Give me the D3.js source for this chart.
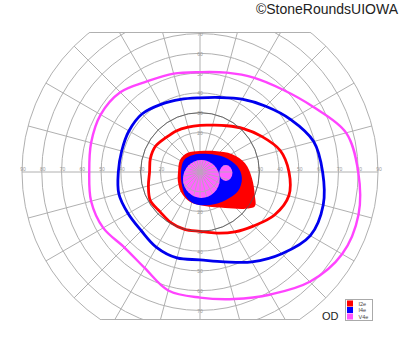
<!DOCTYPE html>
<html>
<head>
<meta charset="utf-8">
<title>Goldmann visual field OD</title>
<style>
  body { margin: 0; background: #fff; }
  svg text { font-family: "Liberation Sans", Arial, sans-serif; }
</style>
</head>
<body>
<svg width="400" height="352"></svg>
<script src="https://cdn.jsdelivr.net/npm/d3@7/dist/d3.min.js"></script>
<script>
// meridians every 15 deg (0 = right, counter-clockwise), eccentricity in degrees
const meridians = [0, 15, 30, 45, 60, 75, 90, 105, 120, 135, 150, 165,
                   180, 195, 210, 225, 240, 255, 270, 285, 300, 315, 330, 345];
const isoV4e = [80, 76.5, 66, 59, 55, 52, 50.5, 51.5, 53, 57, 58, 57,
                56, 57, 56.5, 54, 56, 62, 63.5, 66.5, 71.5, 78.5, 83, 83];
const isoI4e = [62, 59.5, 53, 47, 42.5, 39, 37.5, 38, 39.5, 41.5, 41.5, 41,
                41.3, 42.5, 42, 42, 44, 45, 44.4, 47, 52.5, 58.5, 64.4, 64.5];
const isoI2e = [45, 42, 36, 31, 27, 24.5, 23.6, 23.5, 24, 24.5, 26, 26,
                25.5, 27, 29, 28.5, 29.5, 30, 30, 32, 35, 38.5, 43.5, 46.5];

// central scotoma areas: [meridian, eccentricity]
const redAngles = [11, 29, 55, 90, 124, 149, 180, 204, 227, 252, 278, 305, 321, 328, 337, 353];
const redEcc    = [23.2, 18.6, 13, 10.6, 11.6, 11.8, 11.1, 12.2, 14, 16, 17.4, 22.2, 29.5, 32.7, 30.1, 26.5];
const blueAngles = [9, 32, 66, 112, 143, 180, 218, 241, 261, 287, 313, 333, 352];
const blueEcc    = [19, 14.3, 10, 9.3, 10.1, 9.6, 11.5, 14.5, 16.4, 17.4, 19.3, 21.5, 21.4];
// magenta areas as ellipses: [x, y, rx, ry] in degrees
const magentaSpots = [[0.7, -3.5, 9.3, 9.6], [13.1, -0.5, 3.3, 4]];

const ringDegrees = [10, 20, 30, 40, 50, 60, 70, 80, 90];
const vLabelDegrees = [10, 20, 30, 40, 50, 60, 70];
const legendNames = ["I2e", "I4e", "V4e"];
const legendColors = ["#ff0000", "#0000ff", "#ff55ff"];

const cx = 200, cy = 172, R = 178, topY = 32, botY = 320;
const svg = d3.select("svg");
const r = d3.scaleLinear().domain([0, 90]).range([0, R]);
const rad = a => a * Math.PI / 180;

const defs = svg.append("defs");
defs.append("clipPath").attr("id", "fieldClip")
  .append("rect").attr("x", 0).attr("y", topY).attr("width", 400).attr("height", botY - topY);

const field = svg.append("g").attr("clip-path", "url(#fieldClip)");
const g = field.append("g").attr("transform", `translate(${cx},${cy})`);

function drawGrid(sel) {
  sel.selectAll(".ring").data(ringDegrees).enter().append("circle")
    .attr("r", d => r(d)).attr("fill", "none")
    .attr("stroke", "#b0b0b0").attr("stroke-width", 1);
  sel.selectAll(".spoke").data(meridians).enter().append("line")
    .attr("x1", 0).attr("y1", 0)
    .attr("x2", d => r(90) * Math.cos(rad(d)))
    .attr("y2", d => -r(90) * Math.sin(rad(d)))
    .attr("stroke", "#b0b0b0").attr("stroke-width", 1);
}

drawGrid(g);

// border lines top and bottom
[topY, botY].forEach(y => {
  const dy = y - cy, dx = Math.sqrt(R * R - dy * dy);
  svg.append("line").attr("x1", cx - dx).attr("x2", cx + dx)
    .attr("y1", y + (y === topY ? 0.5 : -0.5)).attr("y2", y + (y === topY ? 0.5 : -0.5))
    .attr("stroke", "#b0b0b0").attr("stroke-width", 1);
});

// axis labels
const lab = g.append("g").attr("font-size", 5).attr("fill", "#999").attr("text-anchor", "middle");
[-1, 1].forEach(s => {
  lab.selectAll(null).data(ringDegrees).enter().append("text")
    .attr("x", d => s * r(d) + 1).attr("y", -0.8).text(d => d);
  lab.selectAll(null).data(vLabelDegrees).enter().append("text")
    .attr("x", 0).attr("y", d => (s < 0 ? -r(d) + 2.5 : r(d) + 2.5)).text(d => d);
});

const toXY = (a, e) => [r(e) * Math.cos(rad(a)), -r(e) * Math.sin(rad(a))];
const closed = d3.line().curve(d3.curveCatmullRomClosed.alpha(0.5));

// filled central areas
g.append("path")
  .attr("d", closed(redAngles.map((a, i) => toXY(a, redEcc[i]))))
  .attr("fill", "#ff0000");
g.append("path")
  .attr("d", closed(blueAngles.map((a, i) => toXY(a, blueEcc[i]))))
  .attr("fill", "#0000ff");
const magClip = defs.append("clipPath").attr("id", "magClip");
magentaSpots.forEach(s => {
  g.append("ellipse").attr("cx", r(s[0])).attr("cy", -r(s[1]))
    .attr("rx", r(s[2])).attr("ry", r(s[3])).attr("fill", "#ff66ff");
  magClip.append("ellipse").attr("cx", r(s[0])).attr("cy", -r(s[1]))
    .attr("rx", r(s[2])).attr("ry", r(s[3]));
});
drawGrid(g.append("g").attr("clip-path", "url(#magClip)").attr("opacity", 0.8));

// isopter lines
const isopters = [
  { data: isoV4e, color: "#ff44ff", w: 2.4 },
  { data: isoI4e, color: "#0000ee", w: 2.8 },
  { data: isoI2e, color: "#ff0000", w: 2.8 }
];
isopters.forEach(iso => {
  g.append("path")
    .attr("d", closed(meridians.map((a, i) => toXY(a, iso.data[i]))))
    .attr("fill", "none").attr("stroke", iso.color)
    .attr("stroke-width", iso.w).attr("stroke-linejoin", "round");
});

// darker 30 degree ring
g.append("circle").attr("r", r(30)).attr("fill", "none")
  .attr("stroke", "#555").attr("stroke-opacity", 0.8).attr("stroke-width", 1);

// legend
const leg = svg.append("g").attr("transform", "translate(345.5,299.5)");
leg.append("rect").attr("width", 27).attr("height", 21)
  .attr("fill", "#fff").attr("stroke", "#aaa").attr("stroke-width", 1);
legendNames.forEach((n, i) => {
  leg.append("rect").attr("x", 1.5).attr("y", 1 + i * 6.5)
    .attr("width", 6).attr("height", 6).attr("fill", legendColors[i]);
  leg.append("text").attr("x", 13).attr("y", 6 + i * 6.5)
    .attr("font-size", 5.5).attr("fill", "#444").text(n);
});

svg.append("text").attr("x", 322).attr("y", 320).attr("font-size", 11)
  .attr("fill", "#222").text("OD");

svg.append("text").attr("x", 398).attr("y", 14).attr("text-anchor", "end")
  .attr("font-size", 14).attr("fill", "#222").text("©StoneRoundsUIOWA");
</script>
</body>
</html>
